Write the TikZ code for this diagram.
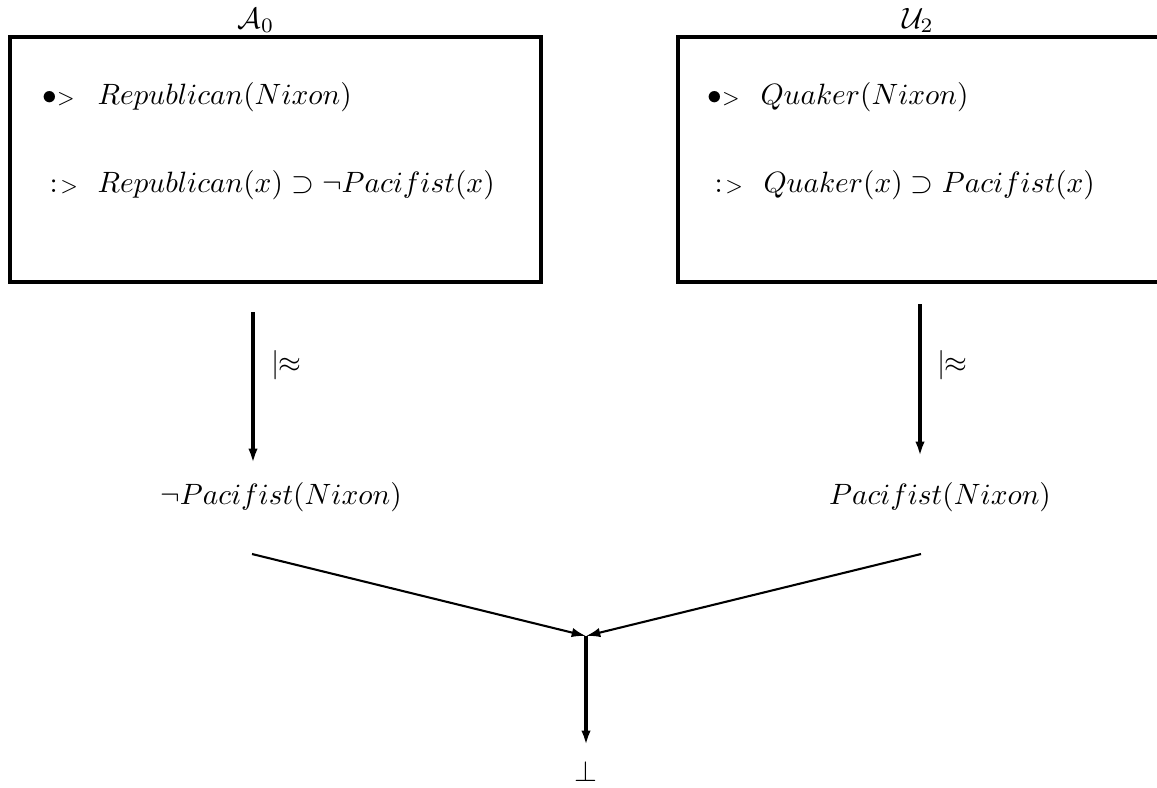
\RequirePackage{fix-cm}
\documentclass[tikz,border=0pt]{standalone}
\usetikzlibrary{arrows.meta}
\newcommand{\smallgt}{\hbox{\fontsize{8.2}{9}\selectfont$>$}}
\begin{document}
\begin{tikzpicture}[x=0.3846pt,y=-0.3846pt,
  font=\fontsize{11.3}{13.6}\selectfont,
  box/.style={draw,line width=1.2pt},
  txt/.style={inner sep=0pt,anchor=base west},
  lbl/.style={inner sep=0pt,anchor=base},
  thickarrow/.style={line width=1.2pt,-{Latex[length=5.5pt,width=3.6pt]}},
  thinarrow/.style={line width=0.8pt,-{Latex[length=5.5pt,width=3.6pt]}}]
\useasboundingbox (0,0) rectangle (1157,787);
% boxes
\draw[box] (10,37) rectangle (541,282);
\draw[box] (678,37) rectangle (1165,282);
\node[lbl] (tA) at (256,28) {$\mathcal{A}_0$};
\node[lbl] (tU) at (918,28) {$\mathcal{U}_2$};
% box contents
\node[txt] (a1p) at (42,104) {$\bullet$\smallgt};
\node[txt] (a1) at (97,104) {$Republican(Nixon)$};
\node[txt] (a2p) at (49,192) {$:$\kern1pt\smallgt};
\node[txt] (a2) at (97,192) {$Republican(x)\supset\neg Pacifist(x)$};
\node[txt] (u1p) at (707,104) {$\bullet$\smallgt};
\node[txt] (u1) at (760,104) {$Quaker(Nixon)$};
\node[txt] (u2p) at (714,192) {$:$\kern1pt\smallgt};
\node[txt] (u2) at (763,192) {$Quaker(x)\supset Pacifist(x)$};
% vertical arrows
\coordinate (l1) at (253,312);
\coordinate (l2) at (253,463);
\coordinate (r1) at (920,304);
\coordinate (r2) at (920,456);
\draw[thickarrow] (l1) -- (l2);
\draw[thickarrow] (r1) -- (r2);
\node[inner sep=0pt,anchor=west] (lr) at (271,365) {$|\!\!\approx$};
\node[inner sep=0pt,anchor=west] (rr) at (937,365) {$|\!\!\approx$};
% conclusions
\node[lbl] (np) at (281,504) {$\neg Pacifist(Nixon)$};
\node[lbl] (pp) at (940,504) {$Pacifist(Nixon)$};
% converging
\coordinate (ls) at (252,554);
\coordinate (rs) at (921,554);
\coordinate (j) at (586,636);
\coordinate (je) at (586,745);
\draw[thinarrow] (ls) -- (j);
\draw[thinarrow] (rs) -- (j);
\draw[thickarrow] (j) -- (je);
\node[lbl] (bot) at (586,781) {$\bot$};
\end{tikzpicture}
\end{document}
